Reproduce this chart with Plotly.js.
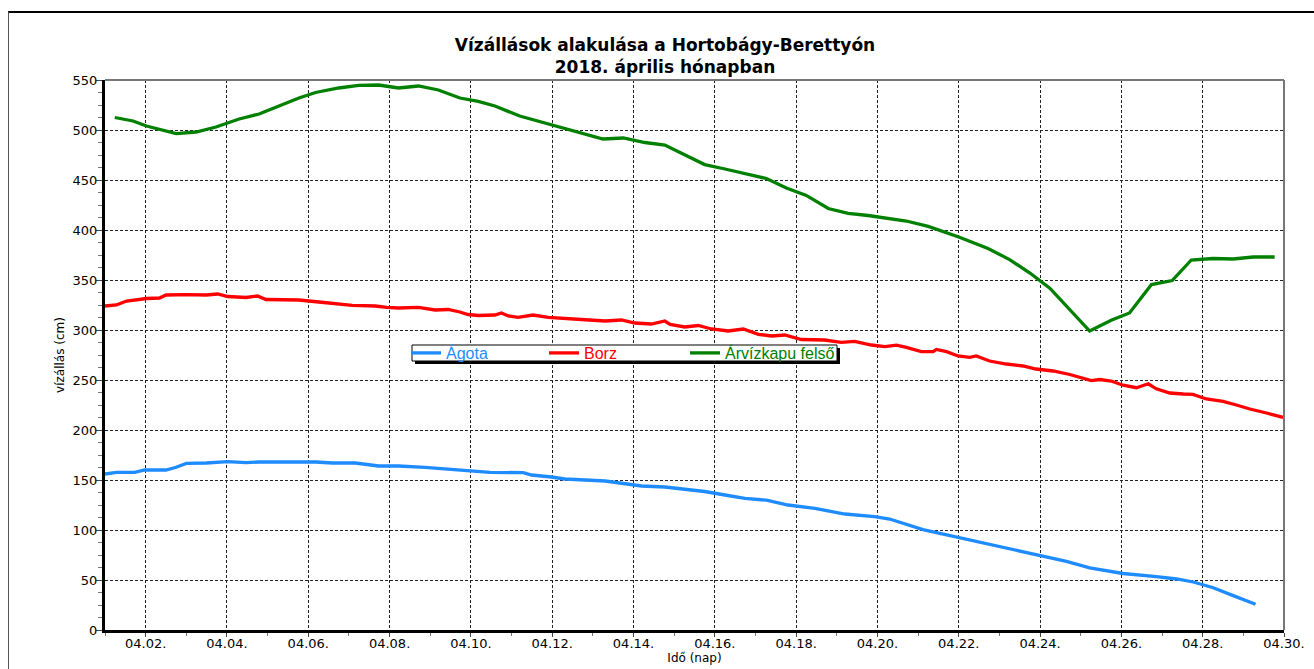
<!DOCTYPE html>
<html>
<head>
<meta charset="utf-8">
<script src="https://cdn.plot.ly/plotly-3.0.1.min.js"></script>
<style>
html,body{margin:0;padding:0;background:#fff;}
#wrap{position:relative;width:1314px;height:669px;}
#chart{position:absolute;left:0;top:0;width:1314px;height:669px;}
#frame{position:absolute;left:8px;top:11px;width:1306px;height:658px;border-top:2px solid #000;border-left:1px solid #555;pointer-events:none;box-sizing:border-box;}
</style>
</head>
<body>
<div id="wrap">
<div id="chart"></div>
<div id="frame"></div>
</div>
<script>
// X axis: day of April 2018 (fractional); tick labels
const tickDays = [2,4,6,8,10,12,14,16,18,20,22,24,26,28,30];
const tickLabels = ["04.02.","04.04.","04.06.","04.08.","04.10.","04.12.","04.14.","04.16.","04.18.","04.20.","04.22.","04.24.","04.26.","04.28.","04.30."];

// Ágota
const agotaDays = [1.0,1.28,1.73,1.98,2.5,2.75,3.0,3.49,4.02,4.47,4.79,6.18,6.59,7.16,7.73,8.22,8.87,9.28,9.73,10.18,10.47,11.29,11.49,11.98,12.31,13.3,13.79,14.2,14.77,15.26,15.75,16.25,16.74,17.27,17.8,18.46,19.2,19.93,20.3,21.12,21.98,23.17,24.07,24.65,25.22,26.04,26.86,27.36,27.77,28.26,28.75,29.3];
const agotaVals = [156,157.7,157.7,160,160,162.7,166.6,167,168.4,167.3,168,168,167,167,164,164,162.7,161.3,160,159,157.7,157.3,155,153,151,149,146.6,144,143,140.6,138.5,135,131.6,129.8,125,121.6,116,113.4,111,100.4,92.8,81.8,74.3,68.6,62.2,56.5,53.3,51,48,42.3,34.4,25.8];

// Borz
const borzDays = [1.0,1.28,1.53,2.02,2.34,2.5,3.0,3.49,3.77,4.02,4.47,4.75,4.96,5.44,5.77,6.26,6.59,7.08,7.65,7.93,8.22,8.71,9.12,9.44,9.73,9.93,10.18,10.59,10.75,10.92,11.16,11.53,11.9,12.27,12.72,13.3,13.7,14.03,14.44,14.77,14.9,15.26,15.59,15.92,16.33,16.7,17.07,17.4,17.72,18.13,18.7,19.11,19.44,19.85,20.18,20.47,20.71,21.08,21.37,21.45,21.7,21.98,22.27,22.43,22.76,23.17,23.58,23.9,24.32,24.73,25.26,25.47,25.75,26.04,26.37,26.5,26.66,26.86,27.19,27.52,27.76,28.09,28.5,28.83,29.16,29.57,29.98];
const borzVals = [324,325,329,331.5,332,335,335.4,335,336,333.5,332.5,334,330.5,330.5,330,328,327,324.7,324,322.6,322,322.6,320,320.5,318,315.5,314.5,315,317,314,312.6,315,312.6,312,310.5,309,310,307,306,309,305.5,303,304.5,301,299,301,295.7,294,295,290.5,290,287.6,288.7,285,283.3,284.8,282.6,278.3,278.3,280.5,278.3,274,272.6,274,269,266,264,261,259,255.5,249.4,250.5,249,244.8,242.3,244,246.2,241.2,237,236,235.6,231,228.7,225,221,217,212.6];

// Árvízkapu felső
const arvizDays = [1.24,1.69,2.02,2.75,3.24,3.73,4.3,4.79,5.28,5.77,6.18,6.75,7.24,7.73,8.22,8.71,9.2,9.73,10.18,10.59,11.2,12.0,12.64,13.25,13.75,14.28,14.77,15.26,15.75,16.25,16.82,17.27,17.76,18.25,18.79,19.28,19.77,20.3,20.71,21.25,22.0,22.72,23.25,23.75,24.24,25.22,25.75,26.2,26.74,27.25,27.72,28.25,28.75,29.24,29.77];
const arvizVals = [512.5,509,504,496.4,498,503,511,516,524,532,537.5,542,544.6,545,542,544,540,532,528.6,524,514,505,498,491,492,487.5,485,475,465.4,461,456,451.5,442,434.6,421.5,416.6,414.5,411.8,409,403.6,393,381.5,370.4,357,341.8,299,309.7,317,345.4,349.4,370,371.5,371,373,373];

const seriesNames = ["Ágota","Borz","Árvízkapu felső"];
const seriesColors = ["#1e8cff","#ff0000","#008000"];
const seriesLegends = ["legend","legend","legend2"];

const FONT = "DejaVu Sans, Liberation Sans, Arial, sans-serif";
const LFONT = "Liberation Sans, Arial, sans-serif";

const traces = [
  [agotaDays, agotaVals],
  [borzDays, borzVals],
  [arvizDays, arvizVals]
].map((d, i) => ({
  type: "scatter",
  mode: "lines",
  x: d[0],
  y: d[1],
  name: '<span style="color:' + seriesColors[i] + '">' + seriesNames[i] + '</span>',
  legend: seriesLegends[i],
  line: {color: seriesColors[i], width: 3.3},
  hoverinfo: "skip"
}));

const L = 105, T = 80, PW = 1179, PH = 550;
const pxX = v => (v - L) / PW;
const pxY = v => 1 - (v - T) / PH;

const legendCommon = {
  orientation: "h",
  yanchor: "middle", y: pxY(353),
  xanchor: "left",
  bgcolor: "rgba(0,0,0,0)", borderwidth: 0,
  font: {family: LFONT, size: 16},
  itemwidth: 30
};

const layout = {
  width: 1314,
  height: 669,
  margin: {l: L, r: 30, t: T, b: 39},
  paper_bgcolor: "#fff",
  plot_bgcolor: "#fff",
  font: {family: FONT, color: "#000"},
  showlegend: true,
  title: {
    text: "<b>Vízállások alakulása a Hortobágy-Berettyón<br>2018. április hónapban</b>",
    font: {family: FONT, size: 17, color: "#000"},
    xref: "container", x: 665/1314, xanchor: "center",
    yref: "container", y: 1 - 51/669, yanchor: "top"
  },
  xaxis: {
    range: [1, 30],
    tickmode: "array",
    tickvals: tickDays,
    ticktext: tickLabels,
    ticks: "outside", ticklen: 4, tickwidth: 1, tickcolor: "#444",
    ticklabelstandoff: -5,
    tickfont: {family: FONT, size: 13, color: "#000"},
    showgrid: true, gridcolor: "#222", griddash: "3px,2px", gridwidth: 1,
    showline: true, linecolor: "#000", linewidth: 3,
    zeroline: false,
    minor: {tickmode: "linear", tick0: 1, dtick: 1, ticks: "outside", ticklen: 3, tickcolor: "#777", showgrid: false},
    title: {text: "Idő (nap)", font: {family: FONT, size: 12, color: "#000"}, standoff: 0}
  },
  yaxis: {
    range: [0, 550],
    tickmode: "linear", tick0: 0, dtick: 50,
    ticks: "outside", ticklen: 6, tickwidth: 1, tickcolor: "#444",
    ticklabelstandoff: -4,
    tickfont: {family: FONT, size: 13, color: "#000"},
    showgrid: true, gridcolor: "#222", griddash: "3px,2px", gridwidth: 1,
    showline: true, linecolor: "#000", linewidth: 3,
    zeroline: false,
    minor: {tickmode: "linear", tick0: 0, dtick: 12.5, ticks: "outside", ticklen: 4, tickcolor: "#777", showgrid: false},
    title: {text: "vízállás (cm)", font: {family: FONT, size: 12, color: "#000"}, standoff: 6}
  },
  legend: Object.assign({}, legendCommon, {x: pxX(406), entrywidth: 93, entrywidthmode: "pixels"}),
  legend2: Object.assign({}, legendCommon, {x: pxX(685)}),
  shapes: [
    // top and right frame of the plot area
    {type: "line", xref: "paper", yref: "paper", x0: 0, x1: 1, y0: 1, y1: 1, line: {color: "#777", width: 2}},
    {type: "line", xref: "paper", yref: "paper", x0: 1, x1: 1, y0: 0, y1: 1, line: {color: "#777", width: 2}},
    // legend box shadow and box
    {type: "rect", xref: "paper", yref: "paper", layer: "above",
     x0: pxX(415), x1: pxX(840), y0: pxY(364), y1: pxY(348), fillcolor: "#000", line: {width: 0}},
    {type: "rect", xref: "paper", yref: "paper", layer: "above",
     x0: pxX(412), x1: pxX(837), y0: pxY(361), y1: pxY(345), fillcolor: "#fff", line: {color: "#000", width: 1}}
  ]
};

Plotly.newPlot("chart", traces, layout, {staticPlot: true});
</script>
</body>
</html>
